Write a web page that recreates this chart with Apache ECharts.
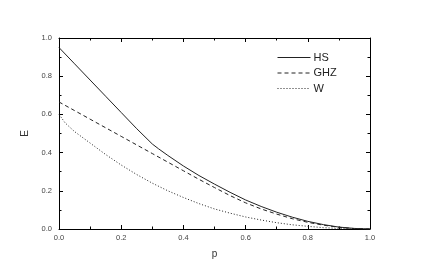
<!DOCTYPE html>
<html><head><meta charset="utf-8">
<script src="https://cdn.jsdelivr.net/npm/echarts@6/dist/echarts.min.js"></script>
<style>html,body{margin:0;padding:0;background:#fff}#c{width:421px;height:278px}</style>
</head><body><div id="c"></div>
<script>
const seriesNames = ['HS', 'GHZ', 'W'];
const hsP  = [0,0.05,0.1,0.15,0.2,0.25,0.3,0.32,0.35,0.4,0.45,0.5,0.55,0.6,0.65,0.7,0.75,0.8,0.85,0.9,0.95,1.0];
const hsE  = [0.95,0.865,0.78,0.695,0.61,0.525,0.445,0.42,0.385,0.33,0.28,0.235,0.192,0.152,0.118,0.088,0.062,0.04,0.023,0.01,0.003,0];
const ghzP = [0,0.05,0.1,0.15,0.2,0.25,0.3,0.35,0.4,0.45,0.5,0.55,0.6,0.65,0.7,0.75,0.8,0.85,0.9,0.95,1.0];
const ghzE = [0.665,0.62,0.575,0.53,0.485,0.44,0.395,0.35,0.305,0.26,0.217,0.175,0.137,0.105,0.078,0.054,0.035,0.02,0.009,0.002,0];
const wP   = [0,0.02,0.05,0.1,0.15,0.2,0.25,0.3,0.35,0.4,0.45,0.5,0.55,0.6,0.65,0.7,0.75,0.8,0.85,0.9,0.95,1.0];
const wE   = [0.6,0.555,0.51,0.45,0.39,0.335,0.285,0.24,0.2,0.165,0.133,0.105,0.083,0.063,0.047,0.033,0.022,0.014,0.007,0.003,0.001,0];
const xTitle = 'p', yTitle = 'E';

const zip = (a,b) => a.map((v,i)=>[v,b[i]]);
const font = 'Liberation Sans, Arial, sans-serif';
const axisCommon = {
  min: 0, max: 1, interval: 0.2,
  axisLine: {show: true, onZero: false, lineStyle: {color: '#000', width: 1}},
  axisTick: {show: true, inside: true, length: 4, lineStyle: {color: '#000'}},
  minorTick: {show: true, splitNumber: 2, length: 2.5, lineStyle: {color: '#000'}},
  splitLine: {show: false}
};
const chart = echarts.init(document.getElementById('c'), null, {renderer: 'canvas'});
chart.setOption({
  animation: false,
  backgroundColor: '#fff',
  grid: {left: 59, right: 51, top: 38, bottom: 49},
  legend: {
    orient: 'vertical', left: 277, top: 52, itemWidth: 33, itemHeight: 8, itemGap: 4.5,
    padding: 0,
    itemStyle: {opacity: 0},
    lineStyle: {width: 1},
    textStyle: {fontFamily: font, fontSize: 11, color: '#222', padding: [0,0,0,-2]},
    data: seriesNames
  },
  xAxis: [
    Object.assign({}, axisCommon, {type: 'value', position: 'bottom', name: xTitle, nameLocation: 'middle', nameGap: 20,
      nameTextStyle: {fontFamily: font, fontSize: 10, color: '#333'},
      axisLabel: {margin: 5, fontFamily: font, fontSize: 7.5, color: '#444', formatter: v => v.toFixed(1)}}),
    Object.assign({}, axisCommon, {type: 'value', position: 'top', axisLabel: {show: false}})
  ],
  yAxis: [
    Object.assign({}, axisCommon, {type: 'value', position: 'left', name: yTitle, nameLocation: 'middle', nameGap: 24,
      nameTextStyle: {fontFamily: font, fontSize: 10, color: '#333'},
      axisLabel: {margin: 7, fontFamily: font, fontSize: 7.5, color: '#444', formatter: v => v.toFixed(1)}}),
    Object.assign({}, axisCommon, {type: 'value', position: 'right', axisLabel: {show: false}})
  ],
  series: [
    {name: 'HS', type: 'line', data: zip(hsP, hsE), symbol: 'none', smooth: false,
     lineStyle: {color: '#222', width: 1, type: 'solid'}, itemStyle: {color: '#222'}},
    {name: 'GHZ', type: 'line', data: zip(ghzP, ghzE), symbol: 'none', smooth: false,
     lineStyle: {color: '#222', width: 1, type: [4, 3]}, itemStyle: {color: '#222'}},
    {name: 'W', type: 'line', data: zip(wP, wE), symbol: 'none', smooth: false,
     lineStyle: {color: '#222', width: 1, type: [1, 2]}, itemStyle: {color: '#222'}}
  ]
});
</script></body></html>
